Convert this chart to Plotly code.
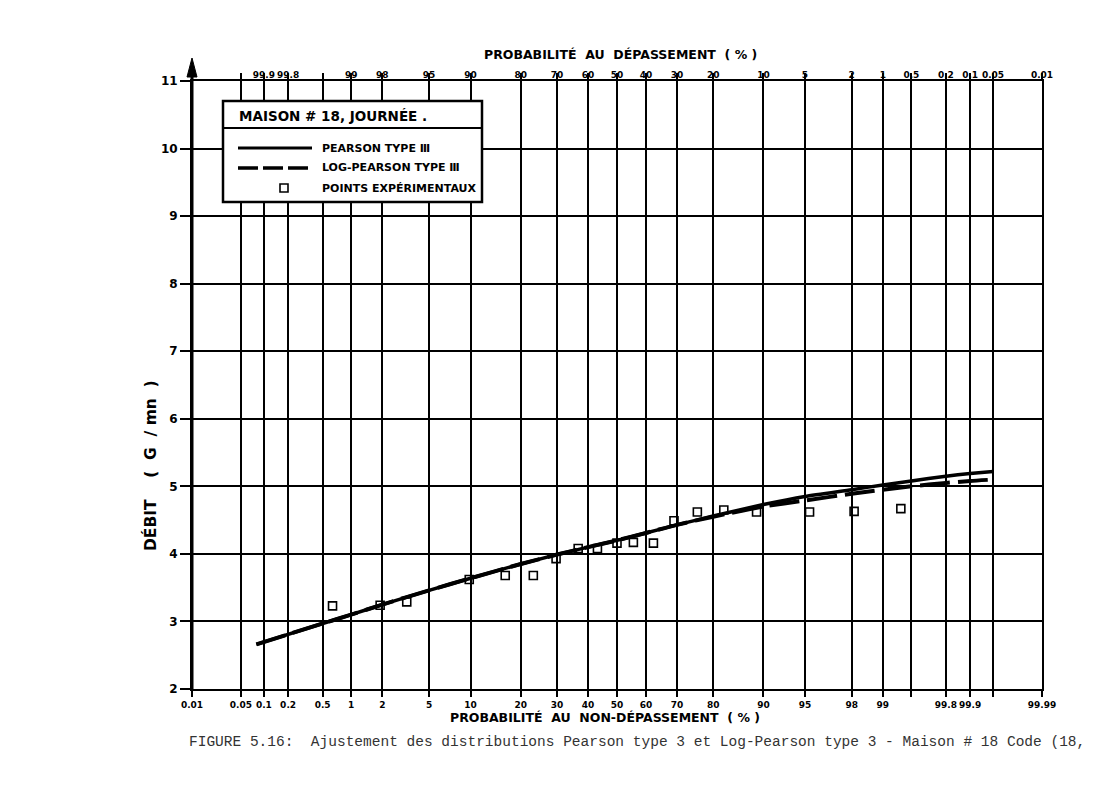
import plotly.graph_objects as go
from statistics import NormalDist

_nd = NormalDist()


def z(p):
    return _nd.inv_cdf(p / 100.0)


# ---------------- data ----------------
grid_probs = [0.01, 0.05, 0.1, 0.2, 0.5, 1, 2, 5, 10, 20, 30, 40, 50, 60, 70, 80,
              90, 95, 98, 99, 99.5, 99.8, 99.9, 99.95, 99.99]
bottom_tick_text = ["0.01", "0.05", "0.1", "0.2", "0.5", "1", "2", "5", "10", "20", "30",
                    "40", "50", "60", "70", "80", "90", "95", "98", "99", "", "99.8",
                    "99.9", "", "99.99"]
top_tick_text = ["", "", "99.9", "99.8", "", "99", "98", "95", "90", "80", "70", "60",
                 "50", "40", "30", "20", "10", "5", "2", "1", "0.5", "0.2", "0.1",
                 "0.05", "0.01"]
y_ticks = [2, 3, 4, 5, 6, 7, 8, 9, 10, 11]

pearson_p = [0.08, 0.5, 1, 2, 5, 10, 20, 30, 40, 50, 60, 70, 80, 90, 95, 98, 99,
             99.5, 99.8, 99.9, 99.95]
pearson_q = [2.66, 2.97, 3.10, 3.25, 3.46, 3.64, 3.85, 3.99, 4.10, 4.20, 4.31, 4.43,
             4.56, 4.73, 4.85, 4.95, 5.02, 5.08, 5.15, 5.19, 5.22]

logpearson_p = [0.08, 0.5, 1, 2, 5, 10, 20, 30, 40, 50, 60, 70, 80, 90, 95, 98, 99,
                99.5, 99.8, 99.9, 99.95]
logpearson_q = [2.66, 2.97, 3.10, 3.25, 3.46, 3.64, 3.85, 3.99, 4.10, 4.20, 4.31, 4.43,
                4.55, 4.70, 4.79, 4.89, 4.95, 5.00, 5.05, 5.08, 5.10]

exp_p = [0.64, 1.91, 3.29, 9.8, 16.4, 23.2, 29.7, 36.7, 43.2, 50.0, 55.7, 62.5, 69.1,
         75.9, 82.5, 88.9, 95.4, 98.1, 99.35]
exp_q = [3.23, 3.24, 3.29, 3.62, 3.68, 3.68, 3.93, 4.08, 4.08, 4.16, 4.17, 4.16, 4.49,
         4.62, 4.65, 4.62, 4.62, 4.63, 4.67]

NB = "\u00a0"
legend_title = "MAISON # 18, JOURNÉE ."
legend_labels = ["PEARSON TYPE Ⅲ", "LOG-PEARSON TYPE Ⅲ", "POINTS EXPÉRIMENTAUX"]
x_title_bottom = f"PROBABILITÉ{NB*2}AU{NB*2}NON-DÉPASSEMENT{NB*2}({NB}%{NB})"
x_title_top = f"PROBABILITÉ{NB*2}AU{NB*2}DÉPASSEMENT{NB*2}({NB}%{NB})"
y_title = f"DÉBIT{NB*4}({NB*2}G{NB*2}/{NB}mn{NB*2})"
caption = ("FIGURE 5.16:  Ajustement des distributions Pearson type 3 et "
           "Log-Pearson type 3 - Maison # 18 Code (18,").replace("  ", NB * 2)

# ---------------- figure ----------------
FONT = "DejaVu Sans"
xr = [z(0.01), z(99.99)]
tickz = [z(p) for p in grid_probs]

fig = go.Figure()

fig.add_trace(go.Scatter(
    x=[z(p) for p in pearson_p], y=pearson_q, mode="lines",
    line=dict(color="black", width=3.5, shape="spline", smoothing=0.6),
    showlegend=False, hoverinfo="skip"))
fig.add_trace(go.Scatter(
    x=[z(p) for p in logpearson_p], y=logpearson_q, mode="lines",
    line=dict(color="black", width=4, dash="30px,8px", shape="spline", smoothing=0.6),
    showlegend=False, hoverinfo="skip"))
fig.add_trace(go.Scatter(
    x=[z(p) for p in exp_p], y=exp_q, mode="markers",
    marker=dict(symbol="square-open", size=8, color="black", line=dict(width=1.6)),
    showlegend=False, hoverinfo="skip"))
# anchor trace for top axis
fig.add_trace(go.Scatter(x=[0], y=[2], xaxis="x2", mode="markers",
                         marker=dict(size=0.1, opacity=0), showlegend=False,
                         hoverinfo="skip"))

tickfont = dict(family=FONT, size=9, color="black", weight="bold")

fig.update_layout(
    width=1104, height=805,
    margin=dict(l=192, r=62, t=81, b=116),
    paper_bgcolor="white", plot_bgcolor="white",
    xaxis=dict(range=xr, tickmode="array", tickvals=tickz, ticktext=bottom_tick_text,
               ticks="outside", ticklen=6, tickwidth=2, tickcolor="black",
               showgrid=True, gridcolor="black", gridwidth=2, zeroline=False,
               showline=True, linewidth=2, linecolor="black", mirror="ticks",
               tickfont=tickfont, tickangle=0),
    xaxis2=dict(range=xr, overlaying="x", side="top", anchor="y", tickmode="array",
                tickvals=tickz, ticktext=top_tick_text, ticks="",
                showgrid=False, zeroline=False,
                showline=False, tickfont=tickfont, tickangle=0),
    yaxis=dict(range=[2, 11], tickmode="array", tickvals=y_ticks,
               ticktext=[str(v) for v in y_ticks], ticks="outside", ticklen=10,
               tickwidth=2, tickcolor="black", showgrid=True, gridcolor="black",
               gridwidth=2, zeroline=False, showline=True, linewidth=2,
               linecolor="black", mirror=True,
               tickfont=dict(family=FONT, size=12, color="black", weight="bold")),
)


def px_x(px):
    return (px - 192) / 850.0


def px_y(py):
    return (689 - py) / 608.0


shapes = []
# thick left axis with arrow
shapes.append(dict(type="line", xref="paper", yref="paper", x0=0, x1=0, y0=0,
                   y1=px_y(70), line=dict(color="black", width=3), layer="above"))
shapes.append(dict(type="path", xref="paper", yref="paper",
                   path=f"M {px_x(187)},{px_y(77)} L {px_x(192)},{px_y(58)} L {px_x(197)},{px_y(77)} Z",
                   fillcolor="black", line=dict(color="black", width=1), layer="above"))
# legend box
shapes.append(dict(type="rect", xref="paper", yref="paper", x0=px_x(223), x1=px_x(482),
                   y0=px_y(202), y1=px_y(101), fillcolor="white",
                   line=dict(color="black", width=2.5), layer="above"))
shapes.append(dict(type="line", xref="paper", yref="paper", x0=px_x(223), x1=px_x(482),
                   y0=px_y(128), y1=px_y(128), line=dict(color="black", width=2),
                   layer="above"))
shapes.append(dict(type="line", xref="paper", yref="paper", x0=px_x(238), x1=px_x(312),
                   y0=px_y(148), y1=px_y(148), line=dict(color="black", width=3),
                   layer="above"))
shapes.append(dict(type="line", xref="paper", yref="paper", x0=px_x(238), x1=px_x(312),
                   y0=px_y(168), y1=px_y(168),
                   line=dict(color="black", width=3.5, dash="20px,5px"), layer="above"))
shapes.append(dict(type="rect", xref="paper", yref="paper", x0=px_x(280), x1=px_x(288),
                   y0=px_y(192), y1=px_y(184), line=dict(color="black", width=1.6),
                   fillcolor="white", layer="above"))
fig.update_layout(shapes=shapes)

bold = dict(family=FONT, color="black", weight="bold")
ann = []
ann.append(dict(text=x_title_top, xref="paper", yref="paper", x=px_x(620), y=px_y(54),
                yanchor="middle", showarrow=False, font=dict(size=12.5, **bold)))
ann.append(dict(text=x_title_bottom, xref="paper", yref="paper", x=px_x(605),
                y=px_y(717), yanchor="middle", showarrow=False,
                font=dict(size=12.5, **bold)))
ann.append(dict(text=y_title, xref="paper", yref="paper", x=px_x(150), y=px_y(466),
                xanchor="center", yanchor="middle",
                textangle=-90, showarrow=False, font=dict(size=15.5, **bold)))
ann.append(dict(text=caption, xref="paper", yref="paper", x=px_x(187), y=px_y(742),
                xanchor="left", yanchor="middle", showarrow=False,
                font=dict(family="Liberation Mono", size=14.5, color="#333333")))
ann.append(dict(text=legend_title, xref="paper", yref="paper", x=px_x(237),
                y=px_y(116), xanchor="left", yanchor="middle", showarrow=False,
                font=dict(size=13.5, **bold)))
for lab, py in zip(legend_labels, [148, 168, 188]):
    ann.append(dict(text=lab, xref="paper", yref="paper", x=px_x(320), y=px_y(py),
                    xanchor="left", yanchor="middle", showarrow=False,
                    font=dict(size=11, **bold)))
fig.update_layout(annotations=ann)

fig.write_html("out.html")
